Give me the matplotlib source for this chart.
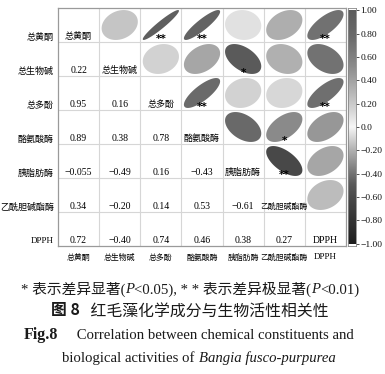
import numpy as np
import matplotlib
matplotlib.use("Agg")
import matplotlib.pyplot as plt
from matplotlib.colors import LinearSegmentedColormap, Normalize
from matplotlib.patches import Polygon
from matplotlib.offsetbox import TextArea, HPacker, AnchoredOffsetbox

labels = ["总黄酮", "总生物碱", "总多酚", "酪氨酸酶", "胰脂肪酶", "乙酰胆碱酯酶", "DPPH"]
# lower triangle correlations, row by row
corr_rows = [
    [],
    [0.22],
    [0.95, 0.16],
    [0.89, 0.38, 0.78],
    [-0.055, -0.49, 0.16, -0.43],
    [0.34, -0.20, 0.14, 0.53, -0.61],
    [0.72, -0.40, 0.74, 0.46, 0.38, 0.27],
]
# significance marks (row, col) in upper triangle
sig_cells = [(0, 2), (0, 3), (0, 6), (1, 4), (2, 3), (2, 6), (3, 5), (4, 5)]
sig_marks = ["**", "**", "**", "*", "**", "**", "*", "**"]
cbar_ticks = [1.0, 0.8, 0.6, 0.4, 0.2, 0.0, -0.2, -0.4, -0.6, -0.8, -1.0]
cbar_ticklabels = ["1.00", "0.80", "0.60", "0.40", "0.20", "0.0", "−0.20", "−0.40", "−0.60", "−0.80", "−1.00"]

n = len(labels)
C = np.eye(n)
for i, row in enumerate(corr_rows):
    for j, v in enumerate(row):
        C[i, j] = v
        C[j, i] = v

nodes = [(-1.0, "#1e1e1e"), (-0.6, "#4a4a4a"), (-0.49, "#5a5a5a"), (-0.4, "#737373"),
         (-0.2, "#b0b0b0"), (0.0, "#f6f6f6"), (0.14, "#d6d6d6"), (0.22, "#c6c6c6"),
         (0.38, "#a6a6a6"), (0.53, "#8a8a8a"), (0.78, "#6a6a6a"), (1.0, "#5c5c5c")]
cmap = LinearSegmentedColormap.from_list("g", [((v + 1) / 2, c) for v, c in nodes])
norm = Normalize(-1, 1)

SERIF = ["Liberation Serif", "Noto Sans CJK SC", "DejaVu Sans"]
CJK = ["Noto Sans CJK SC", "Liberation Serif", "DejaVu Sans"]

def fam(s):
    return SERIF if s.isascii() else CJK

fig = plt.figure(figsize=(3.85, 3.74), dpi=100)
W, H = 385, 374
ax = fig.add_axes([58 / W, 1 - 246 / H, 288 / W, 238 / H])
ax.set_xlim(0, n)
ax.set_ylim(n, 0)

for k in range(1, n):
    ax.axvline(k, color="#d6d6d6", lw=0.8, zorder=1)
    ax.axhline(k, color="#d6d6d6", lw=0.8, zorder=1)
for s in ax.spines.values():
    s.set_color("#9a9a9a")
    s.set_linewidth(0.9)

t = np.linspace(0, 2 * np.pi, 200)
sc = 0.44
for i in range(n):
    for j in range(n):
        v = C[i, j]
        if j > i:
            d = np.arccos(v)
            xs = j + 0.5 + sc * np.cos(t + d / 2)
            ys = i + 0.5 - sc * np.cos(t - d / 2)
            ax.add_patch(Polygon(np.column_stack([xs, ys]), closed=True,
                                 facecolor=cmap(norm(v)), edgecolor="none", zorder=2))
        elif j < i:
            s = f"{v:.2f}" if abs(v) >= 0.1 else f"{v:.3f}"
            s = s.replace("-", "−")
            ax.text(j + 0.5, i + 0.83, s, ha="center", va="center",
                    fontsize=7, family=SERIF, color="#000000", zorder=3)
        else:
            lab = labels[i]
            ax.text(j + 0.5, i + 0.83, lab, ha="center", va="center",
                    fontsize=(7 if lab.isascii() else (6.5 if len(lab) < 6 else 5.7)),
                    family=fam(lab), color="#000000", zorder=3)

for (i, j), m in zip(sig_cells, sig_marks):
    ax.text(j + 0.5, i + 0.99, m, ha="center", va="baseline", fontsize=7.5,
            weight="bold", family="DejaVu Sans", color="#000000", zorder=4)

ax.set_yticks([i + 0.83 for i in range(n)])
ax.set_yticklabels(labels, fontsize=6.5, color="#000000")
ax.set_xticks([i + 0.5 for i in range(n)])
ax.set_xticklabels(labels, fontsize=5.7, color="#000000")
ax.tick_params(length=0, pad=3)
ax.tick_params(axis="x", pad=5)
for lab in ax.get_yticklabels() + ax.get_xticklabels():
    lab.set_family(fam(lab.get_text()))
    if lab.get_text() == "DPPH":
        lab.set_fontsize(6.5)

cax = fig.add_axes([348 / W, 1 - 246 / H, 8 / W, 238 / H])
grad = np.linspace(-1, 1, 256).reshape(-1, 1)
cax.imshow(grad, aspect="auto", cmap=cmap, norm=norm, origin="lower", extent=[0, 1, -1, 1])
cax.set_xticks([])
cax.yaxis.tick_right()
cax.set_yticks(cbar_ticks)
cax.set_yticklabels(cbar_ticklabels, family=SERIF, fontsize=6.8, color="#111111")
cax.tick_params(axis="y", length=2, width=0.6, pad=1, color="#333333")
cax.set_ylim(-1.02, 1.02)
for s in cax.spines.values():
    s.set_color("#888888")
    s.set_linewidth(0.6)


def line(parts, y, x=192.5):
    kids = [TextArea(txt, textprops=dict(color="#1a1a1a", **kw)) for txt, kw in parts]
    box = HPacker(children=kids, pad=0, sep=0, align="baseline")
    ab = AnchoredOffsetbox(loc="center", child=box, pad=0, frameon=False,
                           bbox_to_anchor=(x / W, 1 - y / H),
                           bbox_transform=fig.transFigure, borderpad=0)
    fig.add_artist(ab)


f1 = dict(fontsize=10.6, family=SERIF)
line([("* 表示差异显著(", f1), ("P", dict(f1, style="italic")), ("<0.05), * * 表示差异极显著(", f1),
      ("P", dict(f1, style="italic")), ("<0.01)", f1)], 289, x=190)
line([("图 8", dict(fontsize=11.4, family=CJK, weight="bold")),
      ("   红毛藻化学成分与生物活性相关性", dict(fontsize=11.4, family=CJK))], 311, x=190)
line([("Fig.8", dict(fontsize=11.5, family=SERIF, weight="bold")),
      ("     Correlation between chemical constituents and", dict(fontsize=10.6, family=SERIF))], 335, x=189)
line([("biological activities of ", dict(fontsize=10.6, family=SERIF)),
      ("Bangia fusco-purpurea", dict(fontsize=10.6, family=SERIF, style="italic"))], 358, x=199)

fig.savefig("out.png", dpi=100)
